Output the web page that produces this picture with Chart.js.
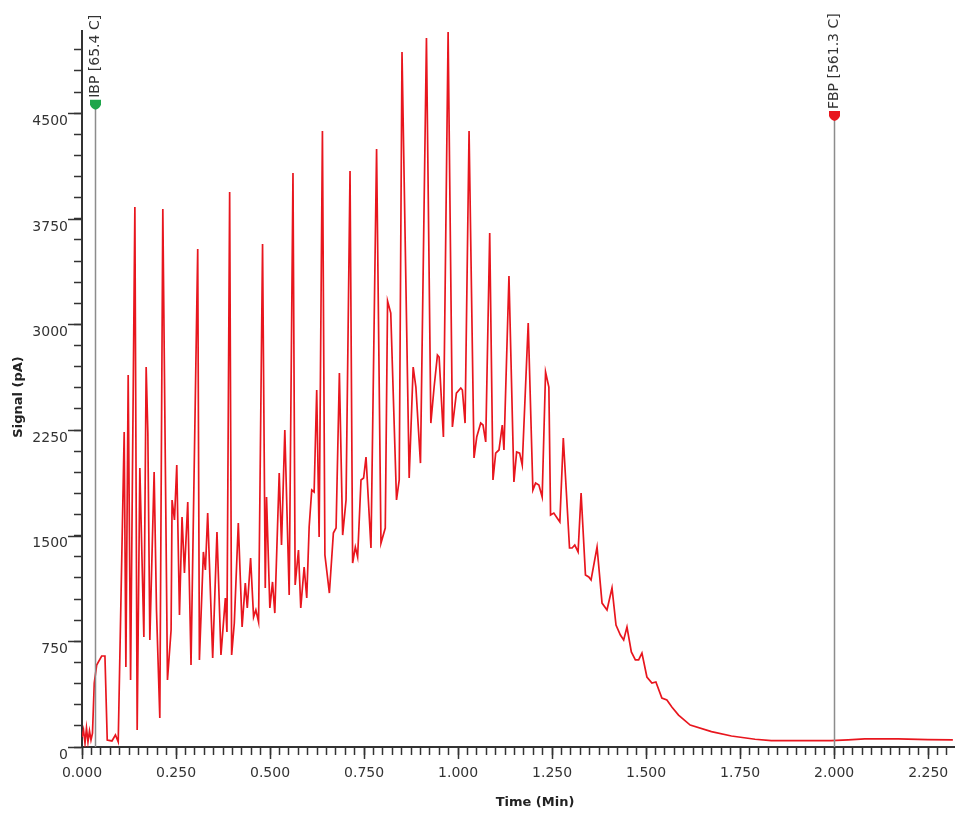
<!DOCTYPE html>
<html><head><meta charset="utf-8">
<script src="https://cdn.jsdelivr.net/npm/chart.js@4/dist/chart.umd.min.js"></script>
<style>html,body{margin:0;padding:0;background:#fff}#wrap{width:957px;height:814px;position:relative}</style>
</head><body><div id="wrap"><canvas id="c" width="957" height="814"></canvas></div>
<script>
const timeMin = [0,0.0040,0.0080,0.0119,0.0159,0.0199,0.0239,0.0279,0.0326,0.0390,0.0523,0.0610,0.0671,0.0796,0.0889,0.0963,0.1122,0.1167,0.1228,0.1292,0.1406,0.1467,0.1538,0.1645,0.1706,0.1751,0.1804,0.1918,0.1981,0.2069,0.2149,0.2273,0.2369,0.2395,0.2459,0.2520,0.2592,0.2660,0.2724,0.2812,0.2899,0.3077,0.3122,0.3228,0.3281,0.3342,0.3475,0.3589,0.3695,0.3812,0.3854,0.3926,0.3979,0.4050,0.4156,0.4257,0.4342,0.4395,0.4483,0.4562,0.4623,0.4695,0.4801,0.4873,0.4907,0.4995,0.5066,0.5127,0.5244,0.5305,0.5393,0.5509,0.5610,0.5668,0.5756,0.5817,0.5907,0.5976,0.6040,0.6109,0.6172,0.6241,0.6305,0.6393,0.6459,0.6578,0.6684,0.6756,0.6844,0.6931,0.7021,0.7127,0.7196,0.7268,0.7329,0.7419,0.7488,0.7552,0.7684,0.7833,0.7950,0.8064,0.8125,0.8210,0.8363,0.8435,0.8509,0.8700,0.8806,0.8878,0.9000,0.9159,0.9276,0.9363,0.9451,0.9496,0.9610,0.9735,0.9849,0.9955,1.0072,1.0114,1.0186,1.0292,1.0424,1.0496,1.0602,1.0663,1.0735,1.0841,1.0928,1.1000,1.1088,1.1175,1.1220,1.1353,1.1485,1.1557,1.1637,1.1706,1.1865,1.1989,1.2061,1.2149,1.2236,1.2326,1.2414,1.2459,1.2546,1.2634,1.2706,1.2798,1.2963,1.3032,1.3103,1.3191,1.3271,1.3387,1.3475,1.3536,1.3695,1.3828,1.3960,1.4093,1.4199,1.4316,1.4403,1.4491,1.4607,1.4714,1.4801,1.4889,1.5021,1.5154,1.5260,1.5419,1.5552,1.5684,1.5862,1.6172,1.6737,1.7268,1.7897,1.8329,1.9920,2.0371,2.0815,2.1698,2.2493,2.3156];
const signalPA = [71,121,28,135,36,114,50,99,454,582,646,646,50,43,85,36,2237,568,2641,476,3834,121,1981,781,2698,2229,760,1953,973,206,3820,476,831,1754,1612,2002,937,1633,1235,1740,582,3536,618,1385,1257,1661,632,1527,653,1058,817,3941,653,880,1590,852,1164,987,1342,923,973,888,3571,1129,1775,987,1172,951,1945,1434,2251,1079,4075,1150,1399,987,1278,1058,1562,1825,1811,2535,1491,4374,1363,1093,1519,1555,2655,1505,1754,4090,1306,1420,1349,1896,1910,2059,1413,4246,1448,1555,3167,3081,1754,1896,4935,1910,2698,2556,2016,5034,2300,2556,2783,2769,2201,5077,2272,2513,2549,2535,2300,4374,2052,2201,2300,2286,2166,3649,1896,2087,2109,2286,2109,3344,1882,2095,2087,2002,3010,1825,1874,1860,1775,2663,2556,1647,1661,1626,1598,2194,1413,1413,1434,1385,1803,1221,1207,1186,1420,1022,973,1129,866,795,760,852,675,618,618,667,497,454,462,348,334,284,227,156,109,78,55,45,45,50,57,57,53,50];

const markerTimes = [0.0345, 2.0];
const markerLevels = [4560, 4480];
const markerLabels = ['IBP [65.4 C]', 'FBP [561.3 C]'];
const markerColors = ['#1ea64b', '#e8161e'];

const xMajorStep = 0.25, xMinorStep = 0.025, xMax = 2.32;
const yMajorStep = 750, yMinorStep = 150, yMax = 5084;
const xTitle = 'Time (Min)';
const yTitle = 'Signal (pA)';

const points = timeMin.map((t, i) => ({x: t, y: signalPA[i]}));
const isMult = (v, s) => Math.abs(v / s - Math.round(v / s)) < 1e-6;
const stepList = (step, max) => { const out = []; for (let k = 0; k * step <= max + 1e-9; k++) out.push(Math.round(k * step * 1000) / 1000); return out; };
const xTickValues = stepList(xMinorStep, xMax);
const yTickValues = stepList(yMinorStep, yMax);
const AXIS = '#333333';
const FONT = 'DejaVu Sans';

const extras = {
  id: 'extras',
  afterDraw(chart) {
    const ctx = chart.ctx, xs = chart.scales.x, ys = chart.scales.y, ca = chart.chartArea;
    ctx.save();
    ctx.strokeStyle = AXIS; ctx.lineWidth = 1.5;
    ys.ticks.forEach(t => {
      if (isMult(t.value, yMajorStep)) {
        const py = Math.round(ys.getPixelForValue(t.value)) + 0.5;
        ctx.beginPath(); ctx.moveTo(ca.left - 14, py); ctx.lineTo(ca.left, py); ctx.stroke();
      }
    });
    xs.ticks.forEach(t => {
      if (isMult(t.value, xMajorStep)) {
        const px = Math.round(xs.getPixelForValue(t.value)) + 0.5;
        ctx.beginPath(); ctx.moveTo(px, ca.bottom); ctx.lineTo(px, ca.bottom + 12); ctx.stroke();
      }
    });
    markerTimes.forEach((t, i) => {
      const px = Math.round(xs.getPixelForValue(t)) + 0.5;
      const py = ys.getPixelForValue(markerLevels[i]);
      ctx.strokeStyle = '#8c8c8c'; ctx.lineWidth = 1.5;
      ctx.beginPath(); ctx.moveTo(px, py); ctx.lineTo(px, ca.bottom); ctx.stroke();
      ctx.fillStyle = markerColors[i];
      ctx.beginPath();
      ctx.moveTo(px - 5.5, py - 5);
      ctx.lineTo(px + 5.5, py - 5);
      ctx.lineTo(px + 5.5, py);
      ctx.quadraticCurveTo(px + 4, py + 4, px, py + 5);
      ctx.quadraticCurveTo(px - 4, py + 4, px - 5.5, py);
      ctx.closePath(); ctx.fill();
      ctx.save();
      ctx.translate(px, py - 7);
      ctx.rotate(-Math.PI / 2);
      ctx.fillStyle = '#333';
      ctx.font = '14px "' + FONT + '"';
      ctx.textAlign = 'left'; ctx.textBaseline = 'middle';
      ctx.fillText(markerLabels[i], 0, 0);
      ctx.restore();
    });
    ctx.fillStyle = '#222';
    ctx.font = 'bold 13px "' + FONT + '"';
    ctx.textAlign = 'center'; ctx.textBaseline = 'middle';
    ctx.fillText(xTitle, 535, 803);
    ctx.save();
    ctx.translate(19, 397); ctx.rotate(-Math.PI / 2);
    ctx.fillText(yTitle, 0, 0);
    ctx.restore();
    ctx.restore();
  }
};

new Chart(document.getElementById('c'), {
  type: 'scatter',
  data: { datasets: [{
    data: points, showLine: true, borderColor: '#e8161e', borderWidth: 1.7,
    pointRadius: 0, pointHoverRadius: 0, tension: 0, fill: false
  }]},
  options: {
    responsive: false, animation: false, devicePixelRatio: 1,
    layout: { padding: { top: 31, right: 2, left: 0, bottom: 0 } },
    plugins: { legend: { display: false }, tooltip: { enabled: false } },
    scales: {
      x: {
        type: 'linear', position: 'bottom', min: 0, max: xMax,
        afterFit(s) { s.height = 67; },
        afterBuildTicks(s) { s.ticks = xTickValues.map(v => ({value: v})); },
        border: { display: true, color: AXIS, width: 2 },
        grid: { drawOnChartArea: false, drawTicks: true, tickLength: 8, tickColor: AXIS, tickWidth: 1.5 },
        ticks: {
          autoSkip: false, maxRotation: 0, minRotation: 0,
          padding: 10, color: '#333', font: { family: FONT, size: 14 },
          callback: v => isMult(v, xMajorStep) ? v.toFixed(3) : ''
        }
      },
      y: {
        type: 'linear', position: 'left', min: 0, max: yMax,
        afterFit(s) { s.width = 82; },
        afterBuildTicks(s) { s.ticks = yTickValues.map(v => ({value: v})); },
        border: { display: true, color: AXIS, width: 2 },
        grid: { drawOnChartArea: false, drawTicks: true, tickLength: 8, tickColor: AXIS, tickWidth: 1.5 },
        ticks: {
          autoSkip: false, labelOffset: 8,
          padding: 6, color: '#333', font: { family: FONT, size: 14 },
          callback: v => isMult(v, yMajorStep) ? String(v) : ''
        }
      }
    }
  },
  plugins: [extras]
});
</script>
</body></html>
